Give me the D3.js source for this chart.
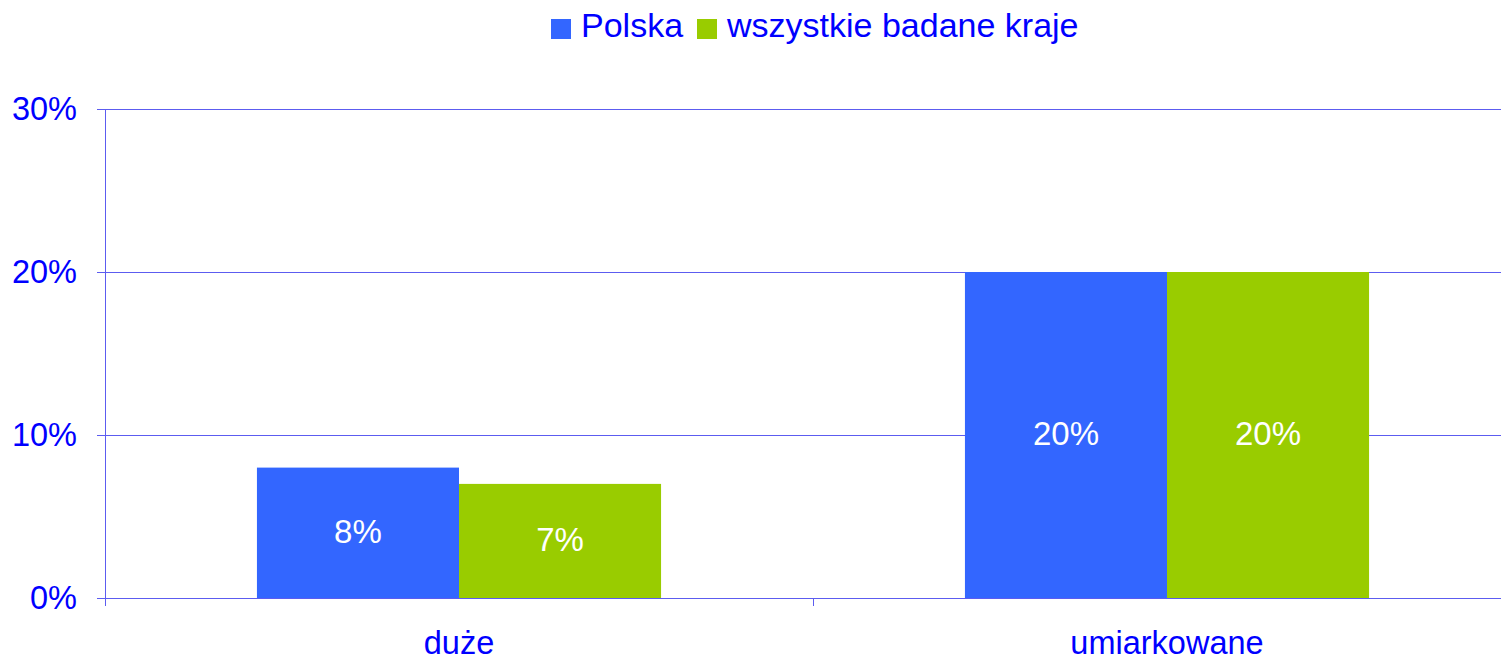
<!DOCTYPE html>
<html>
<head>
<meta charset="utf-8">
<script src="https://cdn.jsdelivr.net/npm/d3@7"></script>
<style>
  body { margin: 0; background: #fff; }
  svg text { font-family: "Liberation Sans", Arial, sans-serif; }
</style>
</head>
<body>
<div id="chart"></div>
<script>
// data
var categories = ["duże", "umiarkowane"];
var seriesNames = ["Polska", "wszystkie badane kraje"];
var polska = [8, 20];
var wszystkie = [7, 20];
var yTicks = [0, 10, 20, 30];

var colors = ["#3366ff", "#99cc00"];
var textColor = "#0000ff";
var lineColor = "#5c5cf0";

var width = 1501, height = 661;
var margin = {top: 109, right: -20, bottom: 63, left: 105};
var plotW = width - margin.left - margin.right,
    plotH = height - margin.top - margin.bottom;

var svg = d3.select("#chart")
  .append("svg")
  .attr("width", width)
  .attr("height", height);

var g = svg.append("g")
  .attr("transform", "translate(" + margin.left + "," + margin.top + ")");

var x0 = d3.scaleBand()
  .domain(categories)
  .range([0, plotW]);

var x1 = d3.scaleBand()
  .domain(seriesNames)
  .range([0, x0.bandwidth()])
  .paddingOuter(0.752);

var y = d3.scaleLinear()
  .domain([0, 30])
  .range([plotH, 0]);

// gridlines
g.append("g")
  .selectAll("line")
  .data(yTicks.filter(function(d) { return d > 0; }))
  .enter().append("line")
  .attr("x1", 0)
  .attr("x2", plotW)
  .attr("y1", function(d) { return y(d) + 0.5; })
  .attr("y2", function(d) { return y(d) + 0.5; })
  .style("stroke", lineColor)
  .style("stroke-width", 1);

// bars
var rows = categories.map(function(c, i) {
  return {cat: c, vals: [polska[i], wszystkie[i]]};
});

var groups = g.selectAll(".grp")
  .data(rows)
  .enter().append("g")
  .attr("class", "grp")
  .attr("transform", function(d) { return "translate(" + x0(d.cat) + ",0)"; });

var bars = groups.selectAll("g.bar")
  .data(function(d) {
    return d.vals.map(function(v, j) { return {name: seriesNames[j], v: v, j: j}; });
  })
  .enter().append("g")
  .attr("class", "bar");

bars.append("rect")
  .attr("x", function(d) { return x1(d.name); })
  .attr("width", x1.bandwidth())
  .attr("y", function(d) { return y(d.v); })
  .attr("height", function(d) { return plotH - y(d.v); })
  .style("fill", function(d) { return colors[d.j]; });

bars.append("text")
  .attr("x", function(d) { return x1(d.name) + x1.bandwidth() / 2; })
  .attr("y", function(d) { return (y(d.v) + plotH) / 2; })
  .attr("dy", "0.3em")
  .attr("text-anchor", "middle")
  .style("fill", "#fff")
  .style("font-size", "33px")
  .text(function(d) { return d.v + "%"; });

// y axis
var yAxis = g.append("g")
  .call(d3.axisLeft(y).tickValues(yTicks).tickSize(8).tickFormat(function(d) { return d + "%"; }));
yAxis.select(".domain").remove();
yAxis.selectAll(".tick line").style("stroke", lineColor);
yAxis.selectAll(".tick text")
  .attr("x", -28)
  .style("fill", textColor)
  .style("font-size", "32.5px")
  .style("font-family", "Liberation Sans, Arial, sans-serif");

g.append("line")
  .attr("x1", 0.5).attr("x2", 0.5)
  .attr("y1", 0).attr("y2", plotH + 8)
  .style("stroke", lineColor);

// x axis
g.append("line")
  .attr("x1", 0).attr("x2", plotW)
  .attr("y1", plotH + 0.5).attr("y2", plotH + 0.5)
  .style("stroke", lineColor);

g.selectAll(".xtick")
  .data(categories.slice(1))
  .enter().append("line")
  .attr("class", "xtick")
  .attr("x1", function(d) { return x0(d) + 0.5; })
  .attr("x2", function(d) { return x0(d) + 0.5; })
  .attr("y1", plotH)
  .attr("y2", plotH + 8)
  .style("stroke", lineColor);

g.selectAll(".xlabel")
  .data(categories)
  .enter().append("text")
  .attr("class", "xlabel")
  .attr("x", function(d) { return x0(d) + x0.bandwidth() / 2; })
  .attr("y", plotH + 56)
  .attr("text-anchor", "middle")
  .style("fill", textColor)
  .style("font-size", "32.5px")
  .text(function(d) { return d; });

// legend
var legend = svg.append("g").attr("transform", "translate(551,0)");
var lx = [0, 146];
seriesNames.forEach(function(name, i) {
  legend.append("rect")
    .attr("x", lx[i]).attr("y", 19)
    .attr("width", 20).attr("height", 20)
    .style("fill", colors[i]);
  legend.append("text")
    .attr("x", lx[i] + 30).attr("y", 37)
    .style("fill", textColor)
    .style("font-size", "34px")
    .text(name);
});
</script>
</body>
</html>
